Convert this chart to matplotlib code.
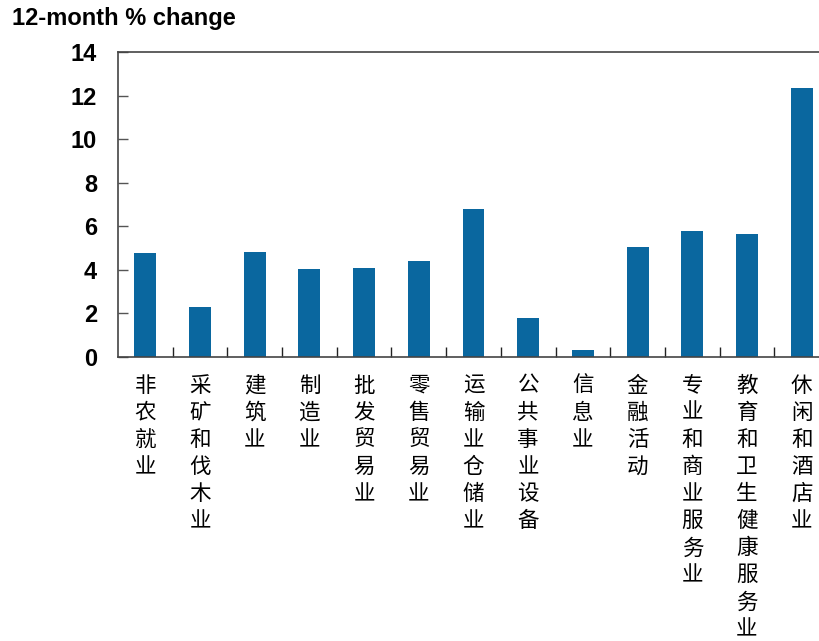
import matplotlib
matplotlib.use("Agg")
import matplotlib.pyplot as plt
import numpy as np

categories = ["非农就业", "采矿和伐木业", "建筑业", "制造业", "批发贸易业", "零售贸易业",
              "运输业仓储业", "公共事业设备", "信息业", "金融活动", "专业和商业服务业",
              "教育和卫生健康服务业", "休闲和酒店业"]
values = [4.78, 2.27, 4.83, 4.02, 4.06, 4.40, 6.79, 1.76, 0.31, 5.03, 5.79, 5.64, 12.33]
yticks = [0, 2, 4, 6, 8, 10, 12, 14]
title = "12-month % change"

fig = plt.figure(figsize=(8.2, 6.41), dpi=100)
ax = fig.add_axes([118/820, 1 - 356.7/641, 711/820, 304.7/641])

x = np.arange(len(categories))
ax.bar(x, values, width=0.4, color="#0a679f", zorder=2)

ax.set_xlim(-0.5, len(categories) - 0.5)
ax.set_ylim(0, 14)
ax.set_yticks(yticks)
ax.set_yticklabels([str(t) for t in yticks], fontsize=17, fontweight="bold",
                   family=["Liberation Sans", "DejaVu Sans"])
ax.tick_params(axis="y", direction="in", length=7, width=1, pad=15, color="#555555")

ax.set_xticks(x)
ax.set_xticklabels(["\n".join(c) for c in categories],
                   family=["Noto Sans CJK SC", "DejaVu Sans"], fontsize=15.5,
                   linespacing=1.3, va="top")
ax.tick_params(axis="x", which="major", length=0, pad=13)
ax.set_xticks(np.arange(len(categories) - 1) + 0.5, minor=True)
ax.tick_params(axis="x", which="minor", direction="in", length=7, width=1, color="#222222")

for s in ["top", "left", "bottom", "right"]:
    ax.spines[s].set_color("#444444")
    ax.spines[s].set_linewidth(1.2)

fig.text(12/820, 1 - 19/641, title, fontsize=17, fontweight="bold",
         family=["Liberation Sans", "DejaVu Sans"], va="center", ha="left")

fig.savefig("out.png", dpi=100)
